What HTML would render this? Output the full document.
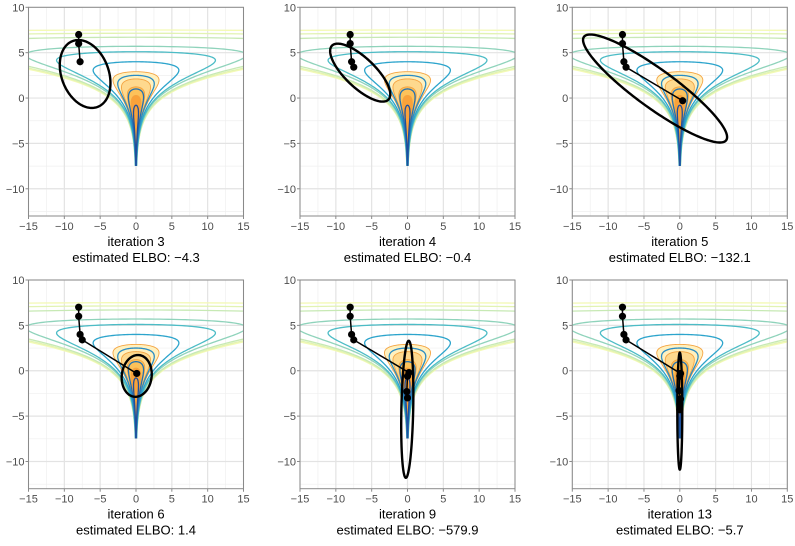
<!DOCTYPE html>
<html><head><meta charset="utf-8">
<style>
html,body{margin:0;padding:0;background:#fff;}
svg{display:block;font-family:"Liberation Sans",sans-serif;}
</style></head>
<body>
<svg id="chart" width="795" height="546" viewBox="0 0 795 546" xmlns="http://www.w3.org/2000/svg"></svg>
<script>
// ---- data ----
const iterations = [3, 4, 5, 6, 9, 13];
const elboLabels = ["−4.3", "−0.4", "−132.1", "1.4", "−579.9", "−5.7"];
const trajX = [
  [-8, -8, -7.8],
  [-8, -8, -7.8, -7.5],
  [-8, -8, -7.8, -7.5, 0.4],
  [-8, -8, -7.8, -7.5, 0.1],
  [-8, -8, -7.8, -7.5, 0.2, 0, -0.1, 0],
  [-8, -8, -7.8, -7.5, 0.1, 0, -0.1, 0.1, 0, 0]
];
const trajY = [
  [7, 6, 4],
  [7, 6, 4, 3.4],
  [7, 6, 4, 3.4, -0.3],
  [7, 6, 4, 3.4, -0.3],
  [7, 6, 4, 3.4, -0.2, -0.6, -2.3, -3.0],
  [7, 6, 4, 3.4, -0.3, -0.6, -2.2, -3.1, -3.7, -4.3]
];
const ellMeanX = [-7.1, -6.6, -3.45, 0.1, -0.03, 0];
const ellMeanY = [2.65, 2.8, 1.05, -0.57, -4.25, -4.45];
const ellVarX = [12.5, 17.6, 101, 4.4, 0.72, 0.12];
const ellVarY = [14, 10.2, 35.4, 5.3, 57, 41.6];
const ellCov = [-3.5, -10, -53.8, 0.4, 1.5, 0];
// contour levels of the funnel log density (offset c) and colours
const lineLevels = [6.875, 6.4, 5.84, 4.655, 4.0, 2.889, 1.597, 0.556, -0.364];
const lineColors = ["#f4fab5", "#e2f3b2", "#c7e9b4", "#8fd3bb", "#4cbcc6", "#2ca4cc", "#2a8cc4", "#2470b0", "#1f4f9c"];
const fillLevels = [1.92, 1.3, 0.7, 0.15];
const fillColors = ["#fff1bf", "#fed98e", "#fdc25a", "#f9a23a"];
const xTicks = [-15, -10, -5, 0, 5, 10, 15];
const yTicks = [-10, -5, 0, 5, 10];
const xMinor = [-12.5, -7.5, -2.5, 2.5, 7.5, 12.5];
const yMinor = [-12.5, -7.5, -2.5, 2.5, 7.5];

// ---- layout ----
const NS = "http://www.w3.org/2000/svg";
const svg = document.getElementById("chart");
const colLeft = [28.5, 300, 572.3];
const rowTop = [7.3, 280];
const PW = 215, PH = 208.7;
const XMIN = -15, XMAX = 15, YMIN = -13, YMAX = 10;

function mk(tag, attrs, parent) {
  const e = document.createElementNS(NS, tag);
  for (const k in attrs) e.setAttribute(k, attrs[k]);
  parent.appendChild(e);
  return e;
}

iterations.forEach((it, p) => {
  const L = colLeft[p % 3], T = rowTop[Math.floor(p / 3)];
  const sx = v => L + (v - XMIN) / (XMAX - XMIN) * PW;
  const sy = v => T + (YMAX - v) / (YMAX - YMIN) * PH;

  const g = mk("g", {}, svg);
  
  

  const cp = mk("clipPath", {id: "clip" + p}, g);
  mk("rect", {x: L, y: T, width: PW, height: PH}, cp);

  // grid
  const grid = mk("g", {}, g);
  
  
  xMinor.forEach(v => mk("line", {x1: sx(v), x2: sx(v), y1: T, y2: T + PH, stroke: "#efefef", "stroke-width": 0.7}, grid));
  yMinor.forEach(v => { if (v > YMIN) mk("line", {x1: L, x2: L + PW, y1: sy(v), y2: sy(v), stroke: "#efefef", "stroke-width": 0.7}, grid); });
  xTicks.forEach(v => mk("line", {x1: sx(v), x2: sx(v), y1: T, y2: T + PH, stroke: "#e3e3e3", "stroke-width": 1.2}, grid));
  yTicks.forEach(v => mk("line", {x1: L, x2: L + PW, y1: sy(v), y2: sy(v), stroke: "#e3e3e3", "stroke-width": 1.2}, grid));

  const body = mk("g", {"clip-path": "url(#clip" + p + ")"}, g);

  function funnelPath(c, ybot) {
    const ytop = (-9 + Math.sqrt(81 + 72 * c)) / 2;
    const N = 160, right = [];
    for (let i = 0; i <= N; i++) {
      const s = i / N;
      const y = ybot + (ytop - ybot) * Math.sin(s * Math.PI / 2);
      const f = Math.max(0, c - y * y / 18 - y / 2);
      let x = Math.sqrt(2 * Math.exp(y) * f);
      x = Math.min(x, 60);
      right.push([x, y]);
    }
    let d = "";
    right.forEach((q, i) => { d += (i ? "L" : "M") + sx(q[0]).toFixed(2) + "," + sy(q[1]).toFixed(2); });
    for (let i = right.length - 1; i >= 0; i--) d += "L" + sx(-right[i][0]).toFixed(2) + "," + sy(right[i][1]).toFixed(2);
    return d + "Z";
  }

  fillLevels.forEach((c, i) => {
    const e = mk("path", {d: funnelPath(c, -6.3), fill: fillColors[i], stroke: "#f4a442", "stroke-width": 0.9}, body);
    
    
  });
  lineLevels.forEach((c, i) => {
    const e = mk("path", {d: funnelPath(c, -7.4), fill: "none", stroke: lineColors[i], "stroke-width": 1.3}, body);
    
    
  });

  // ellipse
  const l11 = Math.sqrt(ellVarX[p]), l21 = ellCov[p] / l11, l22 = Math.sqrt(Math.max(1e-6, ellVarY[p] - l21 * l21));
  let d = "";
  for (let i = 0; i <= 200; i++) {
    const t = i / 200 * 2 * Math.PI;
    const x = ellMeanX[p] + l11 * Math.cos(t);
    const y = ellMeanY[p] + l21 * Math.cos(t) + l22 * Math.sin(t);
    d += (i ? "L" : "M") + sx(x).toFixed(2) + "," + sy(y).toFixed(2);
  }
  const el = mk("path", {d: d + "Z", fill: "none", stroke: "#000", "stroke-width": 2.4}, body);
  
  

  // trajectory
  const tx = trajX[p], ty = trajY[p];
  const pts = tx.map((x, i) => sx(x).toFixed(2) + "," + sy(ty[i]).toFixed(2)).join(" ");
  const pl = mk("polyline", {points: pts, fill: "none", stroke: "#000", "stroke-width": 1.5}, body);
  
  
  tx.forEach((x, i) => {
    const c = mk("circle", {cx: sx(x), cy: sy(ty[i]), r: 3.6, fill: "#000"}, body);
    
    
  });

  // border
  const br = mk("rect", {x: L, y: T, width: PW, height: PH, fill: "none", stroke: "#8a8a8a", "stroke-width": 1}, g);
  
  

  // ticks + labels
  xTicks.forEach(v => {
    mk("line", {x1: sx(v), x2: sx(v), y1: T + PH, y2: T + PH + 3, stroke: "#8a8a8a"}, g);
    const t = mk("text", {x: sx(v), y: T + PH + 14, "text-anchor": "middle", "font-size": 11, fill: "#4d4d4d"}, g);
    t.textContent = v < 0 ? "−" + (-v) : String(v);
    
    
  });
  yTicks.forEach(v => {
    mk("line", {x1: L - 3, x2: L, y1: sy(v), y2: sy(v), stroke: "#8a8a8a"}, g);
    const t = mk("text", {x: L - 4, y: sy(v) + 4, "text-anchor": "end", "font-size": 11, fill: "#4d4d4d"}, g);
    t.textContent = v < 0 ? "−" + (-v) : String(v);
    
    
  });

  const t1 = mk("text", {x: L + PW / 2, y: T + PH + 30, "text-anchor": "middle", "font-size": 13, fill: "#000"}, g);
  t1.textContent = "iteration " + it;
  
  
  const t2 = mk("text", {x: L + PW / 2, y: T + PH + 46, "text-anchor": "middle", "font-size": 13, fill: "#000"}, g);
  t2.textContent = "estimated ELBO: " + elboLabels[p];
  
  
});
</script>
</body></html>
